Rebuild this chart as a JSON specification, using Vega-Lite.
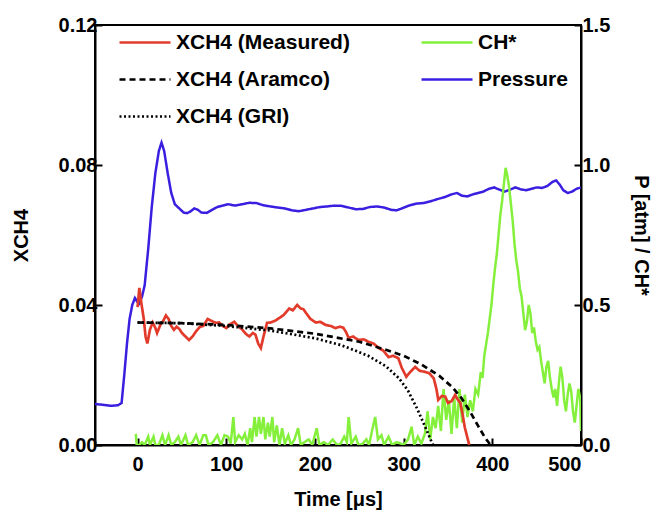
{
  "$schema": "https://vega.github.io/schema/vega-lite/v6.json",
  "width": 486,
  "height": 420,
  "autosize": {"type": "none"},
  "padding": {"left": 95, "top": 25, "right": 81, "bottom": 70},
  "background": "white",
  "datasets": {
    "sig": [
      {"t": -48, "v": 0.146, "s": "Pressure"}, {"t": -40, "v": 0.144, "s": "Pressure"}, {"t": -30, "v": 0.14, "s": "Pressure"}, {"t": -22, "v": 0.142, "s": "Pressure"}, {"t": -18, "v": 0.15, "s": "Pressure"}, {"t": -15, "v": 0.25, "s": "Pressure"}, {"t": -12, "v": 0.36, "s": "Pressure"}, {"t": -9, "v": 0.45, "s": "Pressure"}, {"t": -6, "v": 0.5, "s": "Pressure"}, {"t": -3, "v": 0.525, "s": "Pressure"}, {"t": 0, "v": 0.51, "s": "Pressure"}, {"t": 2, "v": 0.505, "s": "Pressure"}, {"t": 5, "v": 0.53, "s": "Pressure"}, {"t": 8, "v": 0.57, "s": "Pressure"}, {"t": 12, "v": 0.7, "s": "Pressure"}, {"t": 16, "v": 0.85, "s": "Pressure"}, {"t": 20, "v": 0.97, "s": "Pressure"}, {"t": 24, "v": 1.05, "s": "Pressure"}, {"t": 27, "v": 1.08, "s": "Pressure"}, {"t": 30, "v": 1.05, "s": "Pressure"}, {"t": 34, "v": 0.97, "s": "Pressure"}, {"t": 38, "v": 0.9, "s": "Pressure"}, {"t": 42, "v": 0.86, "s": "Pressure"}, {"t": 47, "v": 0.845, "s": "Pressure"}, {"t": 52, "v": 0.83, "s": "Pressure"}, {"t": 56, "v": 0.828, "s": "Pressure"}, {"t": 60, "v": 0.835, "s": "Pressure"}, {"t": 64, "v": 0.845, "s": "Pressure"}, {"t": 68, "v": 0.84, "s": "Pressure"}, {"t": 72, "v": 0.83, "s": "Pressure"}, {"t": 78, "v": 0.829, "s": "Pressure"}, {"t": 84, "v": 0.84, "s": "Pressure"}, {"t": 90, "v": 0.85, "s": "Pressure"}, {"t": 96, "v": 0.855, "s": "Pressure"}, {"t": 102, "v": 0.86, "s": "Pressure"}, {"t": 110, "v": 0.855, "s": "Pressure"}, {"t": 118, "v": 0.86, "s": "Pressure"}, {"t": 126, "v": 0.865, "s": "Pressure"}, {"t": 134, "v": 0.864, "s": "Pressure"}, {"t": 142, "v": 0.856, "s": "Pressure"}, {"t": 150, "v": 0.852, "s": "Pressure"}, {"t": 158, "v": 0.848, "s": "Pressure"}, {"t": 166, "v": 0.845, "s": "Pressure"}, {"t": 174, "v": 0.838, "s": "Pressure"}, {"t": 182, "v": 0.835, "s": "Pressure"}, {"t": 190, "v": 0.84, "s": "Pressure"}, {"t": 198, "v": 0.845, "s": "Pressure"}, {"t": 206, "v": 0.85, "s": "Pressure"}, {"t": 214, "v": 0.852, "s": "Pressure"}, {"t": 222, "v": 0.855, "s": "Pressure"}, {"t": 230, "v": 0.854, "s": "Pressure"}, {"t": 238, "v": 0.848, "s": "Pressure"}, {"t": 246, "v": 0.842, "s": "Pressure"}, {"t": 254, "v": 0.843, "s": "Pressure"}, {"t": 262, "v": 0.85, "s": "Pressure"}, {"t": 270, "v": 0.852, "s": "Pressure"}, {"t": 278, "v": 0.848, "s": "Pressure"}, {"t": 286, "v": 0.84, "s": "Pressure"}, {"t": 292, "v": 0.838, "s": "Pressure"}, {"t": 298, "v": 0.845, "s": "Pressure"}, {"t": 306, "v": 0.855, "s": "Pressure"}, {"t": 314, "v": 0.862, "s": "Pressure"}, {"t": 322, "v": 0.864, "s": "Pressure"}, {"t": 330, "v": 0.87, "s": "Pressure"}, {"t": 338, "v": 0.878, "s": "Pressure"}, {"t": 346, "v": 0.885, "s": "Pressure"}, {"t": 354, "v": 0.895, "s": "Pressure"}, {"t": 360, "v": 0.9, "s": "Pressure"}, {"t": 366, "v": 0.89, "s": "Pressure"}, {"t": 372, "v": 0.888, "s": "Pressure"}, {"t": 378, "v": 0.895, "s": "Pressure"}, {"t": 384, "v": 0.9, "s": "Pressure"}, {"t": 390, "v": 0.905, "s": "Pressure"}, {"t": 396, "v": 0.915, "s": "Pressure"}, {"t": 402, "v": 0.92, "s": "Pressure"}, {"t": 408, "v": 0.912, "s": "Pressure"}, {"t": 414, "v": 0.905, "s": "Pressure"}, {"t": 420, "v": 0.912, "s": "Pressure"}, {"t": 426, "v": 0.92, "s": "Pressure"}, {"t": 432, "v": 0.913, "s": "Pressure"}, {"t": 438, "v": 0.91, "s": "Pressure"}, {"t": 444, "v": 0.915, "s": "Pressure"}, {"t": 450, "v": 0.92, "s": "Pressure"}, {"t": 456, "v": 0.918, "s": "Pressure"}, {"t": 462, "v": 0.925, "s": "Pressure"}, {"t": 468, "v": 0.94, "s": "Pressure"}, {"t": 472, "v": 0.945, "s": "Pressure"}, {"t": 476, "v": 0.93, "s": "Pressure"}, {"t": 480, "v": 0.91, "s": "Pressure"}, {"t": 485, "v": 0.9, "s": "Pressure"}, {"t": 490, "v": 0.905, "s": "Pressure"}, {"t": 495, "v": 0.915, "s": "Pressure"}, {"t": 500, "v": 0.92, "s": "Pressure"},
      {"t": -2, "v": 0.04, "s": "CH*"}, {"t": -1, "v": 0, "s": "CH*"}, {"t": 2, "v": 0, "s": "CH*"}, {"t": 5, "v": 0.01, "s": "CH*"}, {"t": 8, "v": 0, "s": "CH*"}, {"t": 12, "v": 0.03, "s": "CH*"}, {"t": 14, "v": 0, "s": "CH*"}, {"t": 18, "v": 0.03, "s": "CH*"}, {"t": 20, "v": 0, "s": "CH*"}, {"t": 24, "v": 0, "s": "CH*"}, {"t": 28, "v": 0.035, "s": "CH*"}, {"t": 31, "v": 0, "s": "CH*"}, {"t": 35, "v": 0.035, "s": "CH*"}, {"t": 38, "v": 0, "s": "CH*"}, {"t": 42, "v": 0.01, "s": "CH*"}, {"t": 46, "v": 0.03, "s": "CH*"}, {"t": 49, "v": 0, "s": "CH*"}, {"t": 54, "v": 0.035, "s": "CH*"}, {"t": 57, "v": 0, "s": "CH*"}, {"t": 62, "v": 0.01, "s": "CH*"}, {"t": 66, "v": 0.035, "s": "CH*"}, {"t": 70, "v": 0, "s": "CH*"}, {"t": 74, "v": 0.035, "s": "CH*"}, {"t": 77, "v": 0.035, "s": "CH*"}, {"t": 80, "v": 0, "s": "CH*"}, {"t": 85, "v": 0.01, "s": "CH*"}, {"t": 90, "v": 0.035, "s": "CH*"}, {"t": 94, "v": 0, "s": "CH*"}, {"t": 98, "v": 0.035, "s": "CH*"}, {"t": 102, "v": 0.03, "s": "CH*"}, {"t": 105, "v": 0.005, "s": "CH*"}, {"t": 108, "v": 0.1, "s": "CH*"}, {"t": 110, "v": 0.01, "s": "CH*"}, {"t": 114, "v": 0.035, "s": "CH*"}, {"t": 118, "v": 0.02, "s": "CH*"}, {"t": 121, "v": 0.04, "s": "CH*"}, {"t": 124, "v": 0, "s": "CH*"}, {"t": 127, "v": 0.06, "s": "CH*"}, {"t": 129, "v": 0.01, "s": "CH*"}, {"t": 132, "v": 0.1, "s": "CH*"}, {"t": 134, "v": 0.03, "s": "CH*"}, {"t": 137, "v": 0.1, "s": "CH*"}, {"t": 139, "v": 0.04, "s": "CH*"}, {"t": 142, "v": 0.1, "s": "CH*"}, {"t": 144, "v": 0.02, "s": "CH*"}, {"t": 147, "v": 0.08, "s": "CH*"}, {"t": 149, "v": 0.03, "s": "CH*"}, {"t": 152, "v": 0.1, "s": "CH*"}, {"t": 154, "v": 0.01, "s": "CH*"}, {"t": 157, "v": 0.07, "s": "CH*"}, {"t": 160, "v": 0, "s": "CH*"}, {"t": 163, "v": 0.06, "s": "CH*"}, {"t": 166, "v": 0.005, "s": "CH*"}, {"t": 170, "v": 0.035, "s": "CH*"}, {"t": 173, "v": 0, "s": "CH*"}, {"t": 177, "v": 0.02, "s": "CH*"}, {"t": 181, "v": 0.06, "s": "CH*"}, {"t": 184, "v": 0, "s": "CH*"}, {"t": 188, "v": 0.01, "s": "CH*"}, {"t": 193, "v": 0.02, "s": "CH*"}, {"t": 197, "v": 0, "s": "CH*"}, {"t": 202, "v": 0.06, "s": "CH*"}, {"t": 205, "v": 0, "s": "CH*"}, {"t": 210, "v": 0.01, "s": "CH*"}, {"t": 215, "v": 0, "s": "CH*"}, {"t": 220, "v": 0.02, "s": "CH*"}, {"t": 225, "v": 0, "s": "CH*"}, {"t": 229, "v": 0.005, "s": "CH*"}, {"t": 233, "v": 0.03, "s": "CH*"}, {"t": 236, "v": 0.01, "s": "CH*"}, {"t": 238, "v": 0.1, "s": "CH*"}, {"t": 241, "v": 0.005, "s": "CH*"}, {"t": 246, "v": 0.03, "s": "CH*"}, {"t": 249, "v": 0, "s": "CH*"}, {"t": 254, "v": 0.005, "s": "CH*"}, {"t": 258, "v": 0.02, "s": "CH*"}, {"t": 261, "v": 0, "s": "CH*"}, {"t": 265, "v": 0.06, "s": "CH*"}, {"t": 268, "v": 0.1, "s": "CH*"}, {"t": 271, "v": 0.02, "s": "CH*"}, {"t": 275, "v": 0.035, "s": "CH*"}, {"t": 278, "v": 0, "s": "CH*"}, {"t": 283, "v": 0.03, "s": "CH*"}, {"t": 287, "v": 0, "s": "CH*"}, {"t": 292, "v": 0.01, "s": "CH*"}, {"t": 297, "v": 0.005, "s": "CH*"}, {"t": 300, "v": 0, "s": "CH*"}, {"t": 305, "v": 0.02, "s": "CH*"}, {"t": 309, "v": 0.065, "s": "CH*"}, {"t": 312, "v": 0, "s": "CH*"}, {"t": 316, "v": 0.03, "s": "CH*"}, {"t": 320, "v": 0.005, "s": "CH*"}, {"t": 324, "v": 0.04, "s": "CH*"}, {"t": 327, "v": 0.12, "s": "CH*"}, {"t": 330, "v": 0.02, "s": "CH*"}, {"t": 333, "v": 0.1, "s": "CH*"}, {"t": 336, "v": 0.06, "s": "CH*"}, {"t": 339, "v": 0.14, "s": "CH*"}, {"t": 342, "v": 0.05, "s": "CH*"}, {"t": 345, "v": 0.2, "s": "CH*"}, {"t": 348, "v": 0.09, "s": "CH*"}, {"t": 351, "v": 0.16, "s": "CH*"}, {"t": 354, "v": 0.04, "s": "CH*"}, {"t": 357, "v": 0.17, "s": "CH*"}, {"t": 360, "v": 0.06, "s": "CH*"}, {"t": 363, "v": 0.2, "s": "CH*"}, {"t": 366, "v": 0.08, "s": "CH*"}, {"t": 369, "v": 0.18, "s": "CH*"}, {"t": 372, "v": 0.1, "s": "CH*"}, {"t": 375, "v": 0.16, "s": "CH*"}, {"t": 378, "v": 0.12, "s": "CH*"}, {"t": 381, "v": 0.2, "s": "CH*"}, {"t": 384, "v": 0.18, "s": "CH*"}, {"t": 387, "v": 0.26, "s": "CH*"}, {"t": 389, "v": 0.24, "s": "CH*"}, {"t": 391, "v": 0.32, "s": "CH*"}, {"t": 393, "v": 0.36, "s": "CH*"}, {"t": 395, "v": 0.4, "s": "CH*"}, {"t": 397, "v": 0.45, "s": "CH*"}, {"t": 399, "v": 0.5, "s": "CH*"}, {"t": 401, "v": 0.57, "s": "CH*"}, {"t": 403, "v": 0.63, "s": "CH*"}, {"t": 405, "v": 0.68, "s": "CH*"}, {"t": 407, "v": 0.75, "s": "CH*"}, {"t": 409, "v": 0.82, "s": "CH*"}, {"t": 411, "v": 0.87, "s": "CH*"}, {"t": 413, "v": 0.93, "s": "CH*"}, {"t": 415, "v": 0.99, "s": "CH*"}, {"t": 417, "v": 0.96, "s": "CH*"}, {"t": 419, "v": 0.92, "s": "CH*"}, {"t": 421, "v": 0.86, "s": "CH*"}, {"t": 423, "v": 0.8, "s": "CH*"}, {"t": 425, "v": 0.72, "s": "CH*"}, {"t": 427, "v": 0.66, "s": "CH*"}, {"t": 429, "v": 0.62, "s": "CH*"}, {"t": 431, "v": 0.56, "s": "CH*"}, {"t": 433, "v": 0.53, "s": "CH*"}, {"t": 435, "v": 0.47, "s": "CH*"}, {"t": 437, "v": 0.41, "s": "CH*"}, {"t": 439, "v": 0.44, "s": "CH*"}, {"t": 441, "v": 0.5, "s": "CH*"}, {"t": 443, "v": 0.47, "s": "CH*"}, {"t": 445, "v": 0.4, "s": "CH*"}, {"t": 447, "v": 0.42, "s": "CH*"}, {"t": 449, "v": 0.37, "s": "CH*"}, {"t": 451, "v": 0.34, "s": "CH*"}, {"t": 453, "v": 0.35, "s": "CH*"}, {"t": 455, "v": 0.3, "s": "CH*"}, {"t": 457, "v": 0.26, "s": "CH*"}, {"t": 459, "v": 0.22, "s": "CH*"}, {"t": 461, "v": 0.28, "s": "CH*"}, {"t": 463, "v": 0.3, "s": "CH*"}, {"t": 465, "v": 0.24, "s": "CH*"}, {"t": 467, "v": 0.2, "s": "CH*"}, {"t": 469, "v": 0.17, "s": "CH*"}, {"t": 471, "v": 0.2, "s": "CH*"}, {"t": 473, "v": 0.14, "s": "CH*"}, {"t": 475, "v": 0.22, "s": "CH*"}, {"t": 477, "v": 0.28, "s": "CH*"}, {"t": 479, "v": 0.24, "s": "CH*"}, {"t": 481, "v": 0.16, "s": "CH*"}, {"t": 483, "v": 0.12, "s": "CH*"}, {"t": 485, "v": 0.18, "s": "CH*"}, {"t": 487, "v": 0.22, "s": "CH*"}, {"t": 489, "v": 0.19, "s": "CH*"}, {"t": 491, "v": 0.12, "s": "CH*"}, {"t": 493, "v": 0.08, "s": "CH*"}, {"t": 495, "v": 0.14, "s": "CH*"}, {"t": 497, "v": 0.2, "s": "CH*"}, {"t": 499, "v": 0.17, "s": "CH*"}, {"t": 500, "v": 0.05, "s": "CH*"}
    ],
    "xch4": [
      {"t": 0, "v": 0.0394, "s": "XCH4 (Measured)"}, {"t": 2, "v": 0.0449, "s": "XCH4 (Measured)"}, {"t": 4, "v": 0.041, "s": "XCH4 (Measured)"}, {"t": 7, "v": 0.036, "s": "XCH4 (Measured)"}, {"t": 9, "v": 0.031, "s": "XCH4 (Measured)"}, {"t": 11, "v": 0.029, "s": "XCH4 (Measured)"}, {"t": 14, "v": 0.033, "s": "XCH4 (Measured)"}, {"t": 17, "v": 0.035, "s": "XCH4 (Measured)"}, {"t": 20, "v": 0.0335, "s": "XCH4 (Measured)"}, {"t": 22, "v": 0.032, "s": "XCH4 (Measured)"}, {"t": 26, "v": 0.0345, "s": "XCH4 (Measured)"}, {"t": 29, "v": 0.0355, "s": "XCH4 (Measured)"}, {"t": 32, "v": 0.037, "s": "XCH4 (Measured)"}, {"t": 35, "v": 0.036, "s": "XCH4 (Measured)"}, {"t": 38, "v": 0.034, "s": "XCH4 (Measured)"}, {"t": 41, "v": 0.0329, "s": "XCH4 (Measured)"}, {"t": 44, "v": 0.0338, "s": "XCH4 (Measured)"}, {"t": 47, "v": 0.0332, "s": "XCH4 (Measured)"}, {"t": 50, "v": 0.032, "s": "XCH4 (Measured)"}, {"t": 54, "v": 0.031, "s": "XCH4 (Measured)"}, {"t": 58, "v": 0.03, "s": "XCH4 (Measured)"}, {"t": 62, "v": 0.031, "s": "XCH4 (Measured)"}, {"t": 66, "v": 0.0325, "s": "XCH4 (Measured)"}, {"t": 70, "v": 0.0337, "s": "XCH4 (Measured)"}, {"t": 74, "v": 0.034, "s": "XCH4 (Measured)"}, {"t": 79, "v": 0.036, "s": "XCH4 (Measured)"}, {"t": 83, "v": 0.0355, "s": "XCH4 (Measured)"}, {"t": 88, "v": 0.0349, "s": "XCH4 (Measured)"}, {"t": 92, "v": 0.035, "s": "XCH4 (Measured)"}, {"t": 96, "v": 0.034, "s": "XCH4 (Measured)"}, {"t": 100, "v": 0.0334, "s": "XCH4 (Measured)"}, {"t": 104, "v": 0.0345, "s": "XCH4 (Measured)"}, {"t": 109, "v": 0.0352, "s": "XCH4 (Measured)"}, {"t": 113, "v": 0.034, "s": "XCH4 (Measured)"}, {"t": 118, "v": 0.033, "s": "XCH4 (Measured)"}, {"t": 122, "v": 0.0318, "s": "XCH4 (Measured)"}, {"t": 126, "v": 0.031, "s": "XCH4 (Measured)"}, {"t": 130, "v": 0.032, "s": "XCH4 (Measured)"}, {"t": 133, "v": 0.0315, "s": "XCH4 (Measured)"}, {"t": 136, "v": 0.029, "s": "XCH4 (Measured)"}, {"t": 139, "v": 0.0277, "s": "XCH4 (Measured)"}, {"t": 142, "v": 0.031, "s": "XCH4 (Measured)"}, {"t": 146, "v": 0.0349, "s": "XCH4 (Measured)"}, {"t": 150, "v": 0.035, "s": "XCH4 (Measured)"}, {"t": 155, "v": 0.0355, "s": "XCH4 (Measured)"}, {"t": 160, "v": 0.0363, "s": "XCH4 (Measured)"}, {"t": 165, "v": 0.0372, "s": "XCH4 (Measured)"}, {"t": 171, "v": 0.039, "s": "XCH4 (Measured)"}, {"t": 175, "v": 0.0385, "s": "XCH4 (Measured)"}, {"t": 180, "v": 0.04, "s": "XCH4 (Measured)"}, {"t": 184, "v": 0.039, "s": "XCH4 (Measured)"}, {"t": 187, "v": 0.0388, "s": "XCH4 (Measured)"}, {"t": 190, "v": 0.0377, "s": "XCH4 (Measured)"}, {"t": 195, "v": 0.036, "s": "XCH4 (Measured)"}, {"t": 201, "v": 0.035, "s": "XCH4 (Measured)"}, {"t": 206, "v": 0.0352, "s": "XCH4 (Measured)"}, {"t": 212, "v": 0.0343, "s": "XCH4 (Measured)"}, {"t": 218, "v": 0.034, "s": "XCH4 (Measured)"}, {"t": 223, "v": 0.0334, "s": "XCH4 (Measured)"}, {"t": 228, "v": 0.0338, "s": "XCH4 (Measured)"}, {"t": 232, "v": 0.0335, "s": "XCH4 (Measured)"}, {"t": 235, "v": 0.0323, "s": "XCH4 (Measured)"}, {"t": 238, "v": 0.0306, "s": "XCH4 (Measured)"}, {"t": 243, "v": 0.031, "s": "XCH4 (Measured)"}, {"t": 249, "v": 0.03, "s": "XCH4 (Measured)"}, {"t": 255, "v": 0.0302, "s": "XCH4 (Measured)"}, {"t": 261, "v": 0.0294, "s": "XCH4 (Measured)"}, {"t": 266, "v": 0.029, "s": "XCH4 (Measured)"}, {"t": 272, "v": 0.0277, "s": "XCH4 (Measured)"}, {"t": 277, "v": 0.027, "s": "XCH4 (Measured)"}, {"t": 283, "v": 0.0251, "s": "XCH4 (Measured)"}, {"t": 288, "v": 0.0255, "s": "XCH4 (Measured)"}, {"t": 294, "v": 0.0248, "s": "XCH4 (Measured)"}, {"t": 298, "v": 0.022, "s": "XCH4 (Measured)"}, {"t": 303, "v": 0.0195, "s": "XCH4 (Measured)"}, {"t": 308, "v": 0.021, "s": "XCH4 (Measured)"}, {"t": 313, "v": 0.0223, "s": "XCH4 (Measured)"}, {"t": 318, "v": 0.0212, "s": "XCH4 (Measured)"}, {"t": 324, "v": 0.0209, "s": "XCH4 (Measured)"}, {"t": 329, "v": 0.0205, "s": "XCH4 (Measured)"}, {"t": 334, "v": 0.019, "s": "XCH4 (Measured)"}, {"t": 337, "v": 0.016, "s": "XCH4 (Measured)"}, {"t": 339, "v": 0.0129, "s": "XCH4 (Measured)"}, {"t": 343, "v": 0.014, "s": "XCH4 (Measured)"}, {"t": 347, "v": 0.0138, "s": "XCH4 (Measured)"}, {"t": 350, "v": 0.012, "s": "XCH4 (Measured)"}, {"t": 354, "v": 0.0125, "s": "XCH4 (Measured)"}, {"t": 358, "v": 0.0143, "s": "XCH4 (Measured)"}, {"t": 361, "v": 0.013, "s": "XCH4 (Measured)"}, {"t": 364, "v": 0.012, "s": "XCH4 (Measured)"}, {"t": 367, "v": 0.008, "s": "XCH4 (Measured)"}, {"t": 369, "v": 0.005, "s": "XCH4 (Measured)"}, {"t": 372, "v": 0.002, "s": "XCH4 (Measured)"}, {"t": 374, "v": 0, "s": "XCH4 (Measured)"},
      {"t": 0, "v": 0.035, "s": "XCH4 (Aramco)"}, {"t": 50, "v": 0.0348, "s": "XCH4 (Aramco)"}, {"t": 100, "v": 0.0343, "s": "XCH4 (Aramco)"}, {"t": 150, "v": 0.0333, "s": "XCH4 (Aramco)"}, {"t": 200, "v": 0.0318, "s": "XCH4 (Aramco)"}, {"t": 250, "v": 0.0295, "s": "XCH4 (Aramco)"}, {"t": 280, "v": 0.0272, "s": "XCH4 (Aramco)"}, {"t": 300, "v": 0.0255, "s": "XCH4 (Aramco)"}, {"t": 320, "v": 0.023, "s": "XCH4 (Aramco)"}, {"t": 340, "v": 0.0198, "s": "XCH4 (Aramco)"}, {"t": 355, "v": 0.0165, "s": "XCH4 (Aramco)"}, {"t": 365, "v": 0.0135, "s": "XCH4 (Aramco)"}, {"t": 375, "v": 0.0095, "s": "XCH4 (Aramco)"}, {"t": 385, "v": 0.005, "s": "XCH4 (Aramco)"}, {"t": 392, "v": 0.002, "s": "XCH4 (Aramco)"}, {"t": 398, "v": 0, "s": "XCH4 (Aramco)"},
      {"t": 0, "v": 0.035, "s": "XCH4 (GRI)"}, {"t": 50, "v": 0.0348, "s": "XCH4 (GRI)"}, {"t": 100, "v": 0.034, "s": "XCH4 (GRI)"}, {"t": 150, "v": 0.0327, "s": "XCH4 (GRI)"}, {"t": 200, "v": 0.0305, "s": "XCH4 (GRI)"}, {"t": 230, "v": 0.0285, "s": "XCH4 (GRI)"}, {"t": 260, "v": 0.0255, "s": "XCH4 (GRI)"}, {"t": 280, "v": 0.0225, "s": "XCH4 (GRI)"}, {"t": 295, "v": 0.019, "s": "XCH4 (GRI)"}, {"t": 305, "v": 0.0155, "s": "XCH4 (GRI)"}, {"t": 315, "v": 0.0105, "s": "XCH4 (GRI)"}, {"t": 322, "v": 0.0065, "s": "XCH4 (GRI)"}, {"t": 328, "v": 0.003, "s": "XCH4 (GRI)"}, {"t": 333, "v": 0, "s": "XCH4 (GRI)"}
    ]
  },
  "encoding": {
    "x": {
      "field": "t", "type": "quantitative",
      "scale": {"domain": [-48, 500], "nice": false, "zero": false},
      "axis": {"values": [0, 100, 200, 300, 400, 500], "title": "Time [μs]", "labelPadding": 16, "titlePadding": 15}
    },
    "color": {
      "field": "s", "type": "nominal",
      "scale": {
        "domain": ["XCH4 (Measured)", "XCH4 (Aramco)", "XCH4 (GRI)", "CH*", "Pressure"],
        "range": ["#e23b2b", "#000000", "#000000", "#84f03c", "#3a1fe0"]
      },
      "legend": {"title": null}
    },
    "strokeDash": {
      "field": "s", "type": "nominal",
      "scale": {
        "domain": ["XCH4 (Measured)", "XCH4 (Aramco)", "XCH4 (GRI)", "CH*", "Pressure"],
        "range": [[1, 0], [6, 4], [2, 2.5], [1, 0], [1, 0]]
      },
      "legend": {"title": null}
    }
  },
  "layer": [
    {
      "data": {"name": "sig"},
      "mark": {"type": "line", "strokeWidth": 2.5, "clip": true},
      "encoding": {
        "y": {
          "field": "v", "type": "quantitative",
          "scale": {"domain": [0, 1.5], "nice": false},
          "axis": {"orient": "right", "values": [0, 0.5, 1, 1.5], "format": ".1f", "title": "P [atm] / CH*", "labelPadding": 8, "titlePadding": 21}
        }
      }
    },
    {
      "data": {"name": "xch4"},
      "mark": {"type": "line", "strokeWidth": 2.7, "clip": true},
      "encoding": {
        "y": {
          "field": "v", "type": "quantitative",
          "scale": {"domain": [0, 0.12], "nice": false},
          "axis": {"orient": "left", "values": [0, 0.04, 0.08, 0.12], "format": ".2f", "title": "XCH4", "labelPadding": 5, "titlePadding": 27}
        }
      }
    }
  ],
  "resolve": {"scale": {"y": "independent"}},
  "config": {
    "font": "Liberation Sans",
    "view": {"stroke": "black", "strokeWidth": 2},
    "axis": {
      "grid": false,
      "domainColor": "black", "domainWidth": 2,
      "tickColor": "black", "tickWidth": 2, "tickSize": -7,
      "labelFont": "Liberation Sans", "labelFontWeight": "bold", "labelFontSize": 20, "labelColor": "black",
      "titleFont": "Liberation Sans", "titleFontWeight": "bold", "titleFontSize": 20, "titleColor": "black"
    },
    "legend": {
      "orient": "none", "legendX": 23, "legendY": -9.5, "padding": 0,
      "direction": "vertical", "columns": 2, "columnPadding": 66, "rowPadding": -16.5,
      "symbolType": "stroke", "symbolSize": 2600, "symbolStrokeWidth": 2.5,
      "labelFont": "Liberation Sans", "labelFontWeight": "bold", "labelFontSize": 21, "labelColor": "black", "labelOffset": 4,
      "labelLimit": 300
    }
  }
}
